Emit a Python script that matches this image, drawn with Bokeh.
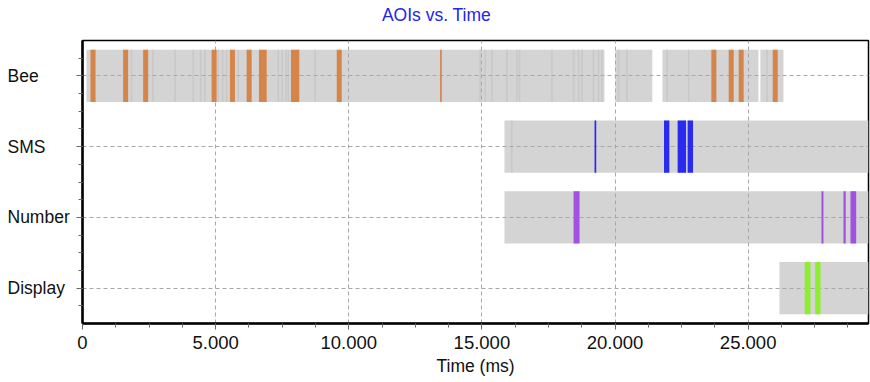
from bokeh.plotting import figure
from bokeh.layouts import row, column
from bokeh.models import ColumnDataSource, SingleIntervalTicker, FixedTicker, Range1d
from bokeh.core.properties import value
from bokeh.embed import file_html
from bokeh.resources import INLINE

# ---------------- data ----------------
aois = ["Bee", "SMS", "Number", "Display"]
hit_colors = ["#d5844a", "#2b2bf0", "#a252e2", "#8cee2c"]
trial_end = 29520  # ms

# recorded (gray) periods per AOI row
gray_aoi = ["Bee", "Bee", "Bee", "Bee", "SMS", "Number", "Display"]
gray_start = [150, 20010, 21780, 25460, 15848, 15848, 26175]
gray_end = [19600, 21400, 25385, 26325, 29520, 29520, 29520]

# fixation boundaries inside the gray periods
fix_aoi = ["Bee"] * 33 + ["SMS"]
fix_time = [1840, 2640, 3480, 4158, 4435, 4597, 5098, 5262, 5413, 5849,
            7353, 7503, 7642, 7729, 8733, 14935, 15123, 15374, 15938, 16314,
            16414, 17630, 18443, 18630, 18758, 19193, 19381, 19508, 20134, 20448,
            21953, 22767, 25712,
            16126]

# AOI hits
hit_aoi = (["Bee"] * 14 + ["SMS"] * 4 + ["Number"] * 4 + ["Display"] * 2)
hit_start = [300, 1526, 2278, 4849, 5537, 6165, 6627, 7830, 9548, 13431,
             23618, 24270, 24645, 25922,
             19231, 21840, 22352, 22727,
             18443, 27753, 28580, 28843,
             27126, 27516]
hit_end = [490, 1714, 2466, 5037, 5725, 6353, 6917, 8142, 9736, 13494,
           23806, 24457, 24832, 26110,
           19295, 22040, 22667, 22930,
           18668, 27828, 28666, 29057,
           27340, 27716]

x_tick_values = [0, 5000, 10000, 15000, 20000, 25000]
x_tick_labels = ["0", "5.000", "10.000", "15.000", "20.000", "25.000"]

title_text = "AOIs vs. Time"
x_label = "Time (ms)"

# ---------------- build ----------------
n = len(aois)
ypos = {a: n - i for i, a in enumerate(aois)}
color_of = dict(zip(aois, hit_colors))
half = 0.37

FONT = "Liberation Sans"
FS = "17.5px"
TITLE_H = 29
TOTAL_H = 382
H = TOTAL_H - TITLE_H
TOP, BOTTOM = 40 - TITLE_H, 59

# ---- title strip ----
tfig = figure(width=870, height=TITLE_H, x_range=Range1d(0, 1), y_range=Range1d(0, 1),
              x_axis_type=None, y_axis_type=None,
              output_backend="svg", toolbar_location=None,
              min_border=0, outline_line_color=None,
              background_fill_color="white", border_fill_color="white")
tfig.grid.visible = False
tfig.text(x=[0.5], y=[0.5], text=[title_text], x_offset=1,
          text_align="center", text_baseline="middle",
          text_font=value(FONT), text_font_size=value(FS), text_color="#2424ee")

# ---- main plot ----
y_range = Range1d(0.5, n + 0.5)

p = figure(width=800, height=H,
           x_range=Range1d(0, trial_end), y_range=y_range,
           output_backend="svg", toolbar_location=None,
           min_border_left=12, min_border_right=2,
           min_border_top=TOP, min_border_bottom=BOTTOM,
           background_fill_color="white", border_fill_color="white")
p.title.text = ""
p.title.visible = False

gray_src = ColumnDataSource(dict(
    left=gray_start, right=gray_end,
    bottom=[ypos[a] - half for a in gray_aoi],
    top=[ypos[a] + half for a in gray_aoi]))
p.quad(left="left", right="right", bottom="bottom", top="top", source=gray_src,
       fill_color="#d4d4d4", line_color=None, level="image")

fix_src = ColumnDataSource(dict(
    x=fix_time,
    y0=[ypos[a] - half for a in fix_aoi],
    y1=[ypos[a] + half for a in fix_aoi]))
p.segment(x0="x", x1="x", y0="y0", y1="y1", source=fix_src,
          line_color="#c8c8c8", line_width=1.5, level="image")

hit_src = ColumnDataSource(dict(
    left=hit_start, right=hit_end,
    bottom=[ypos[a] - half for a in hit_aoi],
    top=[ypos[a] + half for a in hit_aoi],
    color=[color_of[a] for a in hit_aoi]))
p.quad(left="left", right="right", bottom="bottom", top="top", source=hit_src,
       fill_color="color", line_color=None)

# axes
xt = SingleIntervalTicker(interval=5000, num_minor_ticks=4)
p.xaxis.ticker = xt
p.xaxis.major_label_overrides = dict(zip(x_tick_values, x_tick_labels))
p.xaxis.major_label_text_font = FONT
p.xaxis.major_label_text_font_size = "18.5px"
p.xaxis.major_label_text_color = "#111111"
p.xaxis.major_label_standoff = 6
p.xaxis.axis_label = x_label
p.xaxis.axis_label_text_font = FONT
p.xaxis.axis_label_text_font_size = FS
p.xaxis.axis_label_text_font_style = "normal"
p.xaxis.axis_label_text_color = "#111111"
p.xaxis.axis_label_standoff = 4

yt_major = [ypos[a] for a in aois]
yt_minor = [k / 4 for k in range(3, 4 * n + 2)]
p.yaxis.ticker = FixedTicker(ticks=yt_major, minor_ticks=yt_minor)
p.yaxis.major_label_overrides = {v: "" for v in yt_major}
p.yaxis.major_label_standoff = 0

for ax in (p.xaxis[0], p.yaxis[0]):
    ax.axis_line_width = 2.5
    ax.axis_line_color = "black"
    ax.major_tick_out = 6
    ax.major_tick_in = 0
    ax.minor_tick_out = 4
    ax.minor_tick_in = 0
    ax.major_tick_line_color = "#666666"
    ax.minor_tick_line_color = "#666666"

p.xgrid.ticker = xt
p.ygrid.ticker = FixedTicker(ticks=yt_major)
for g in (p.xgrid[0], p.ygrid[0]):
    g.grid_line_color = "#a8a8a8"
    g.grid_line_dash = "4 3"
    g.grid_line_width = 1
    g.level = "underlay"

p.outline_line_color = "black"
p.outline_line_width = 1.5

# left-aligned category labels, in a narrow companion figure sharing the y range
lab = figure(width=70, height=H, x_range=Range1d(0, 1), y_range=y_range,
             x_axis_type=None, y_axis_type=None,
             output_backend="svg", toolbar_location=None,
             min_border_left=0, min_border_right=0,
             min_border_top=TOP, min_border_bottom=BOTTOM,
             outline_line_color=None, background_fill_color="white",
             border_fill_color="white")
lab.grid.visible = False
lab_src = ColumnDataSource(dict(x=[0] * n, y=[ypos[a] for a in aois], text=aois))
lab.text(x="x", y="y", text="text", source=lab_src, x_offset=7,
         text_align="left", text_baseline="middle",
         text_font=value(FONT), text_font_size=value(FS), text_color="#111111")

layout = column(tfig, row(lab, p, spacing=0), spacing=0)
open("out.html", "w").write(file_html(layout, INLINE))
